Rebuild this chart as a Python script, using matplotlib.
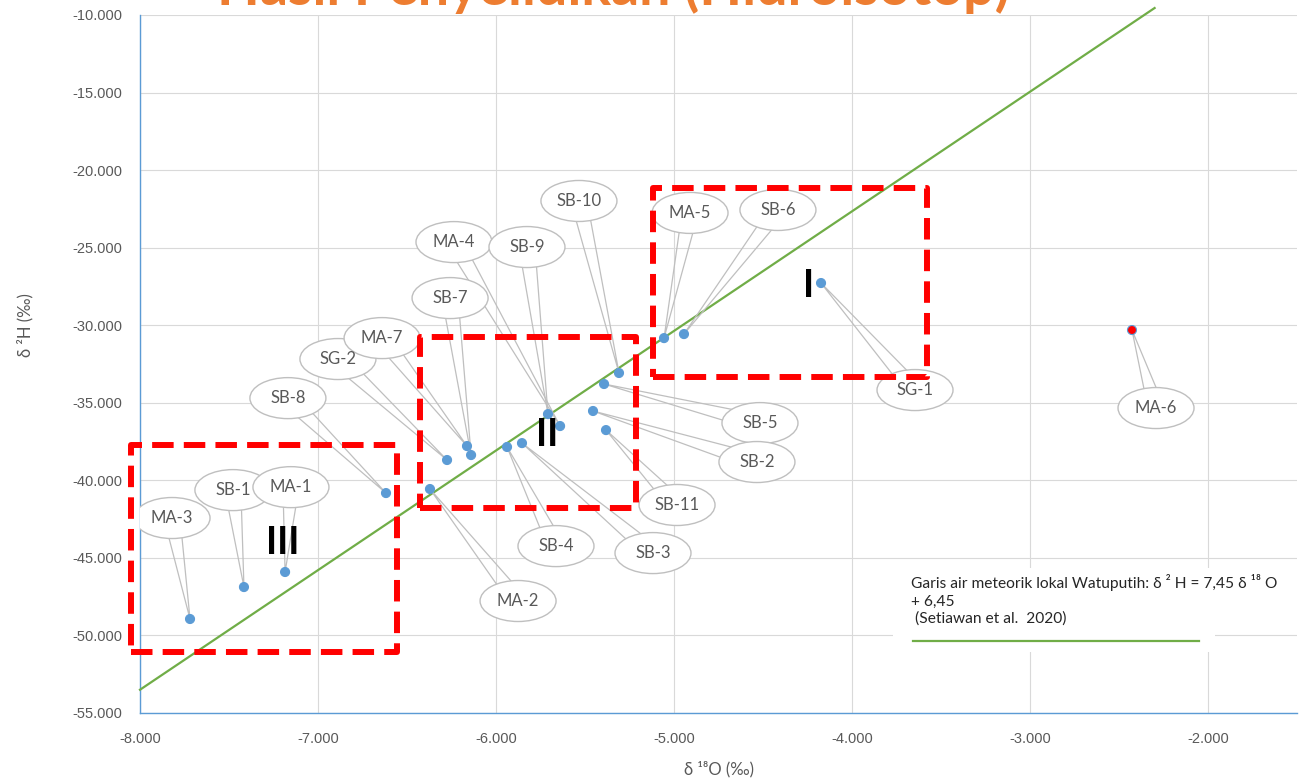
import matplotlib
matplotlib.use('Agg')
import matplotlib.pyplot as plt
import numpy as np
from matplotlib.patches import Ellipse, Rectangle

# sample points: delta 18O vs delta 2H
names = ['MA-3', 'SB-1', 'MA-1', 'SB-8', 'MA-2', 'SG-2', 'MA-7', 'SB-7', 'SB-4', 'SB-3',
         'MA-4', 'SB-9', 'SB-5', 'SB-10', 'SB-2', 'SB-11', 'MA-5', 'SB-6', 'SG-1', 'MA-6']
d18o = [-7.719, -7.416, -7.185, -6.618, -6.371, -6.275, -6.163, -6.140, -5.938, -5.854,
        -5.640, -5.708, -5.393, -5.309, -5.455, -5.382, -5.056, -4.944, -4.174, -2.427]
d2h = [-48.94, -46.88, -45.91, -40.82, -40.56, -38.69, -37.79, -38.37, -37.85, -37.60,
       -36.50, -35.73, -33.79, -33.08, -35.53, -36.76, -30.83, -30.57, -27.28, -30.31]

# callout bubble centres (layout)
label_x = [-7.820, -7.478, -7.152, -7.169, -5.876, -6.888, -6.640, -6.258, -5.663, -5.118,
           -6.236, -5.826, -4.517, -5.534, -4.534, -4.983, -4.910, -4.416, -3.646, -2.292]
label_y = [-42.43, -40.63, -40.44, -34.70, -47.78, -32.18, -30.83, -28.25, -44.24, -44.69,
           -24.64, -24.96, -36.31, -21.99, -38.82, -41.59, -22.76, -22.57, -34.18, -35.34]

# local meteoric water line
gmwl_x = [-8.0, -2.3]
gmwl_y = [-53.5, -9.55]

# zone boxes (x0, x1, y0, y1) and names
zones = ['I', 'II', 'III']
zone_box = [(-5.116, -3.576, -33.34, -21.15),
            (-6.426, -5.212, -41.79, -30.76),
            (-8.05, -6.555, -51.07, -37.72)]
zone_txt = [(-4.245, -27.47), (-5.712, -37.08), (-7.196, -44.04)]

grey = '#595959'
blue = '#5B9BD5'

plt.rcParams['font.family'] = ['Lato', 'DejaVu Sans']

fig = plt.figure(figsize=(13, 7.82), dpi=100)
ax = fig.add_axes([140 / 1300, 69 / 782, 1157 / 1300, 698 / 782])
ax.set_xlim(-8, -1.5)
ax.set_ylim(-55, -10)
ax.set_xticks(np.arange(-8, -1.9, 1))
ax.set_yticks(np.arange(-55, -9, 5))
ax.xaxis.set_major_formatter(matplotlib.ticker.FuncFormatter(lambda v, p: f'{v:.3f}'))
ax.yaxis.set_major_formatter(matplotlib.ticker.FuncFormatter(lambda v, p: f'{v:.3f}'))
ax.tick_params(length=0, labelcolor=grey, labelsize=10.5)
ax.tick_params(axis='x', pad=14)
ax.tick_params(axis='y', pad=13)
for lab in ax.get_xticklabels() + ax.get_yticklabels():
    lab.set_family(['Liberation Sans', 'DejaVu Sans'])
ax.grid(True, color='#D9D9D9', lw=0.8, zorder=0)
ax.set_axisbelow(True)
for s in ['top', 'right']:
    ax.spines[s].set_visible(False)
for s in ['left', 'bottom']:
    ax.spines[s].set_color(blue)
    ax.spines[s].set_linewidth(1.0)

ax.set_xlabel('δ ¹⁸O (‰)', color=grey, fontsize=12)
ax.xaxis.set_label_coords(0.5, -0.068)
ax.set_ylabel('δ ²H (‰)', color=grey, fontsize=12)
ax.yaxis.set_label_coords(-0.092, 0.556)

ax.plot(gmwl_x, gmwl_y, color='#70AD47', lw=1.6, zorder=3, clip_on=False)

cols = ['red' if n == 'MA-6' else blue for n in names]
ax.scatter(d18o, d2h, s=42, c=cols, edgecolors=blue, linewidths=0.8, zorder=5)

# callouts
sx = 1157 / 6.5
sy = 698 / 45
for i, n in enumerate(names):
    cx, cy = label_x[i] * sx, label_y[i] * sy
    px, py = d18o[i] * sx, d2h[i] * sy
    d = np.array([px - cx, py - cy])
    d = d / np.hypot(*d)
    nrm = np.array([-d[1], d[0]]) * 8
    b1 = (cx + nrm[0], cy + nrm[1])
    b2 = (cx - nrm[0], cy - nrm[1])
    ax.plot([b1[0] / sx, d18o[i], b2[0] / sx], [b1[1] / sy, d2h[i], b2[1] / sy],
            color='#BFBFBF', lw=0.9, zorder=4)
    ax.add_patch(Ellipse((label_x[i], label_y[i]), 76 / sx, 41 / sy, fc='white',
                         ec='#BFBFBF', lw=1.0, zorder=6))
    ax.text(label_x[i], label_y[i], n, color=grey, fontsize=12, ha='center',
            va='center', zorder=7)

for (x0, x1, y0, y1), (tx, ty), z in zip(zone_box, zone_txt, zones):
    ax.plot([x0, x1, x1, x0, x0], [y0, y0, y1, y1, y0], color='#FF0000', lw=4.3,
            ls=(0, (3.6, 1.7)), zorder=8, clip_on=False)
    ax.text(tx, ty, z, fontsize=27, fontweight='bold', color='black', ha='center',
            va='center', zorder=9)

# legend-like note
ax.add_patch(Rectangle((0.651, 0.0874), 0.278, 0.12, transform=ax.transAxes,
                       fc='white', ec='none', zorder=2))
ax.text(0.6664, 0.199, 'Garis air meteorik lokal Watuputih: δ ² H = 7,45 δ ¹⁸ O\n+ 6,45\n (Setiawan et al.  2020)',
        transform=ax.transAxes, fontsize=11.2, color='#262626', va='top', ha='left',
        linespacing=1.3, zorder=3)
ax.plot([0.668, 0.915], [0.1031, 0.1031], transform=ax.transAxes, color='#70AD47',
        lw=1.6, zorder=3)

fig.text(0.4715, 0.9936, 'Hasil Penyelidikan (Hidroisotop)', fontsize=40,
         fontweight='bold', color='#ED7D31', ha='center', va='baseline')

fig.savefig('out.png', dpi=100)
